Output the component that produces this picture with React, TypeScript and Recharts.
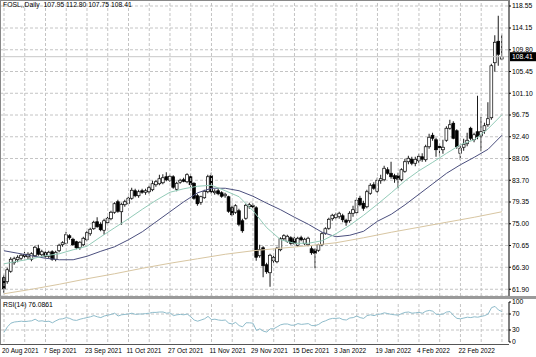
import React from 'react';
import { ComposedChart, Bar, Line, XAxis, YAxis, CartesianGrid, ReferenceLine } from 'recharts';

const opens = [64.2,63.4,65.5,67.2,67.8,68.1,68.9,68.4,67.9,68.6,70.0,68.8,69.2,68.5,69.4,67.9,69.6,70.8,71.1,72.6,71.9,71.4,70.2,70.8,71.8,73.0,74.0,75.4,74.9,73.7,75.2,76.0,77.3,79.4,77.4,78.8,79.1,80.1,81.6,80.6,81.6,81.3,81.4,81.8,82.8,83.0,83.2,84.4,83.7,84.4,81.9,83.3,83.8,83.4,84.4,83.1,80.6,79.3,80.2,81.4,84.6,81.2,81.6,81.2,80.6,80.4,78.2,77.3,77.6,75.6,76.1,78.4,78.7,78.2,68.6,70.2,66.8,65.2,67.6,67.4,69.8,72.0,71.5,72.2,72.0,70.7,72.2,71.0,70.8,70.0,69.8,69.7,70.8,73.1,74.1,76.0,76.2,76.4,76.6,75.7,75.6,77.1,77.2,80.1,79.1,78.4,81.1,82.8,81.5,83.6,83.8,85.8,85.1,84.6,84.6,83.8,85.5,87.4,87.9,87.1,87.6,88.4,87.8,90.4,92.7,91.8,90.5,89.8,91.7,94.1,95.1,93.6,89.1,90.3,91.0,94.1,91.8,93.4,92.6,93.6,94.8,96.2,107.2,111.5,107.95];
const highs = [64.8,66.2,68.3,68.4,68.7,69.0,69.4,69.3,69.3,70.6,70.8,69.8,69.5,69.6,69.7,69.6,71.0,71.5,73.4,72.9,72.2,71.6,71.5,72.4,73.5,74.2,75.6,76.3,75.3,76.0,76.4,77.6,79.3,79.8,79.2,79.8,80.4,82.2,82.0,81.8,82.0,82.0,82.6,83.6,83.7,84.8,84.9,85.3,84.8,84.7,83.4,84.0,84.2,85.1,84.9,83.3,81.0,80.6,81.8,84.8,85.2,81.9,82.0,81.5,81.2,80.6,78.6,78.9,78.0,76.0,79.0,79.2,79.1,78.5,70.8,70.5,67.2,69.0,68.6,70.4,72.3,72.9,72.8,72.5,72.4,72.4,72.6,72.2,72.4,70.5,70.1,71.0,73.3,74.3,76.2,77.0,77.2,77.4,77.0,76.0,77.5,78.6,80.2,80.6,79.6,81.8,83.1,83.3,84.2,84.8,86.6,86.3,87.4,85.0,85.2,86.1,88.0,88.6,88.4,88.4,89.0,89.1,90.8,93.0,93.2,92.2,91.0,91.8,94.5,95.8,95.5,93.9,90.6,92.0,93.2,94.4,93.2,100.6,96.4,95.2,99.3,107.0,112.7,116.6,112.8];
const lows = [61.2,63.0,65.2,66.8,67.3,67.7,68.2,67.9,67.5,68.3,68.6,68.4,68.2,68.1,67.6,67.5,69.3,70.4,70.9,71.8,70.6,69.9,69.8,70.5,71.5,72.6,73.8,74.2,73.5,72.8,74.9,75.7,77.0,77.2,74.8,78.4,78.8,79.8,80.3,80.2,81.0,80.8,81.0,81.5,82.4,82.7,82.9,83.5,83.4,82.0,81.5,83.0,83.3,83.1,82.4,79.8,78.6,78.8,80.0,81.1,81.0,80.8,80.7,80.2,80.2,77.2,76.5,77.0,74.5,73.2,75.8,78.0,78.1,67.6,68.2,64.3,65.0,62.4,67.2,67.1,69.5,71.6,71.2,70.8,70.8,70.4,71.5,70.7,70.5,68.8,66.1,69.4,70.5,72.8,73.8,75.6,75.9,76.0,75.3,74.6,75.2,76.4,76.9,78.5,77.6,78.1,80.8,81.8,81.2,83.0,83.5,84.8,84.0,83.2,82.1,83.5,85.2,86.9,86.7,86.5,87.2,87.4,87.4,90.0,91.6,88.4,88.5,89.0,91.4,93.8,91.9,90.0,87.8,89.6,90.5,91.7,91.3,91.9,89.5,93.0,94.4,95.8,105.4,106.6,107.75];
const closes = [62.0,65.8,67.9,68.0,68.3,68.7,68.5,68.9,69.0,70.3,68.9,69.4,68.5,69.3,67.9,69.3,70.7,71.2,72.8,72.2,70.8,70.2,71.3,72.1,73.2,73.9,75.3,74.4,73.8,75.6,76.1,77.3,79.0,77.5,78.9,79.4,80.1,81.7,80.6,81.4,81.3,81.6,82.2,83.0,83.4,84.0,84.2,83.8,84.5,82.3,83.1,83.7,83.5,84.8,82.8,80.1,79.0,80.4,81.5,84.4,81.4,81.5,81.0,80.5,80.9,77.5,76.8,78.6,74.9,73.6,78.7,78.8,78.4,68.3,69.8,66.6,65.4,68.7,68.3,70.1,72.0,72.6,72.5,71.1,71.0,72.1,71.8,71.9,72.1,69.2,69.1,70.8,73.0,74.0,75.9,76.7,76.8,77.1,75.8,75.3,77.1,77.8,79.7,78.8,78.1,81.4,82.7,82.1,83.7,84.0,86.1,85.1,84.4,84.0,83.9,85.8,87.4,88.1,87.1,87.9,88.5,87.9,90.4,92.3,92.1,89.8,90.2,90.3,94.1,94.8,92.1,90.4,90.1,90.9,91.7,92.1,92.8,92.4,93.4,94.6,96.0,106.6,111.3,108.9,108.41];

// moving averages read every 4 bars (fast, mid) and every 8 bars (slow)
const fastMa = [67.0,67.5,68.0,68.6,69.0,69.8,70.5,72.4,74.2,76.0,77.9,79.7,81.3,82.0,82.5,82.7,81.6,80.4,77.6,74.2,71.8,71.1,71.1,71.6,73.0,74.7,76.7,78.9,81.2,83.6,85.6,87.3,89.1,90.8,91.8,94.0,96.8];
const midMa = [69.6,69.1,68.6,68.1,67.8,67.8,68.5,69.5,70.4,71.8,73.4,75.4,77.4,79.4,81.2,82.1,82.1,81.6,80.5,79.1,77.8,76.3,74.9,73.3,72.4,72.7,73.5,75.5,76.9,78.8,80.9,83.0,85.1,86.8,88.3,89.9,92.7];
const slowMa = [61.0,61.9,62.9,64.0,65.0,66.1,67.1,68.0,68.9,69.6,70.1,70.6,71.2,72.2,73.3,74.3,75.3,76.3,77.4];

const rsiValues = [24,38,47,50,51,52,51,52,53,57,52,53,51,52,48,53,57,58,61,59,55,54,57,59,61,63,66,63,61,65,67,69,72,65,68,69,70,72,69,70,70,71,72,74,74,75,75,72,73,66,68,69,68,70,63,55,52,55,58,64,56,57,55,54,55,47,45,49,41,38,48,48,47,29,33,27,25,33,33,38,43,45,45,42,42,46,44,45,46,41,41,44,50,53,57,59,59,60,56,55,60,61,65,61,59,66,68,66,69,70,73,71,69,68,67,71,74,75,72,73,74,72,77,79,77,69,69,70,75,76,66,59,58,60,62,61,63,62,64,66,70,86,89,80,76.09];

const dateLabels = ['20 Aug 2021','7 Sep 2021','23 Sep 2021','11 Oct 2021','27 Oct 2021','11 Nov 2021','29 Nov 2021','15 Dec 2021','3 Jan 2022','19 Jan 2022','4 Feb 2022','22 Feb 2022'];
const dateTickBars = [0,12,24,36,48,60,72,84,96,108,120,132];
const gridBars = [0,6,12,18,24,30,36,42,48,54,60,66,72,78,84,90,96,102,108,114,120,126,132,138,144];
const priceTicks = [118.55,114.15,109.80,105.45,101.10,96.75,92.40,88.05,83.70,79.35,75.00,70.65,66.30,61.90];
const rsiTicks = [0,30,70,100];
const rsiLevels = [30,70];

const X_DOMAIN: [number, number] = [-1.157, 146.04];
const FONT = '"Liberation Sans", Arial, sans-serif';
const GRID = '#c4c4c4';

const data = opens.map((o, i) => ({
  i,
  o,
  h: highs[i],
  l: lows[i],
  c: closes[i],
  range: [lows[i], highs[i]],
  rsi: rsiValues[i],
}));

const fastData = fastMa.map((v, k) => ({ i: k * 4, fast: v }));
const midData = midMa.map((v, k) => ({ i: k * 4, mid: v }));
const slowData = slowMa.map((v, k) => ({ i: k * 8, slow: v }));

const lastClose = closes[closes.length - 1];

const Candle = (props: any) => {
  const { x, y, width, height, payload } = props;
  if (x == null || y == null || !payload) return null;
  const { o, h, l, c } = payload;
  const range = h - l;
  const ratio = range > 0 ? height / range : 0;
  const cx = x + width / 2;
  const top = y + (h - Math.max(o, c)) * ratio;
  const bot = y + (h - Math.min(o, c)) * ratio;
  const bull = c >= o;
  return (
    <g>
      <line x1={cx} x2={cx} y1={y} y2={y + height} stroke="#000" strokeWidth={0.9} />
      <rect x={cx - 1.4} y={top} width={2.8} height={Math.max(bot - top, 0.8)} fill={bull ? '#fff' : '#000'} stroke="#000" strokeWidth={0.7} />
    </g>
  );
};

const PriceBox = (props: any) => {
  const vb = props.viewBox || {};
  const bx = (vb.x || 0) + (vb.width || 0) + 1;
  const by = vb.y || 0;
  return (
    <g>
      <rect x={bx} y={by - 4.5} width={26} height={9} fill="#000" />
      <text x={bx + 2} y={by + 2.5} fill="#fff" fontSize={6.8} fontFamily={FONT}>{lastClose.toFixed(2)}</text>
    </g>
  );
};

const DateTick = (props: any) => {
  const { x, payload } = props;
  const idx = dateTickBars.indexOf(payload.value);
  if (idx < 0) return null;
  return (
    <text x={x - 2} y={54.5} fontSize={6.5} fontFamily={FONT} fill="#000" textAnchor="start">
      {dateLabels[idx]}
    </text>
  );
};

export default function App() {
  return (
    <div style={{ position: 'fixed', left: 0, top: 0, width: 536, height: 357, background: '#fff', fontFamily: FONT, overflow: 'hidden' }}>
      <div style={{ position: 'absolute', left: 0, top: 0 }}>
        <ComposedChart width={536} height={296} data={data} margin={{ top: 0, right: 0, left: 0, bottom: 0 }}>
          <CartesianGrid vertical={false} stroke={GRID} strokeDasharray="3 2" />
          {gridBars.map((b) => (
            <ReferenceLine key={'g' + b} x={b} stroke={GRID} strokeDasharray="3 2" />
          ))}
          <XAxis type="number" dataKey="i" domain={X_DOMAIN} hide allowDataOverflow />
          <YAxis
            orientation="right"
            width={27}
            domain={[60.55, 119.75]}
            ticks={priceTicks}
            interval={0}
            allowDataOverflow
            tickFormatter={(v: number) => v.toFixed(2)}
            tick={{ fontSize: 6.8, fill: '#000', fontFamily: FONT }}
            tickSize={2}
            tickMargin={1}
            axisLine={{ stroke: '#000' }}
            tickLine={{ stroke: '#000' }}
          />
          <ReferenceLine y={lastClose} stroke="#c8c8c8" label={<PriceBox />} />
          <Bar dataKey="range" barSize={3} shape={<Candle />} isAnimationActive={false} />
          <Line data={slowData} dataKey="slow" stroke="#d8c6a2" strokeWidth={1} dot={false} activeDot={false} isAnimationActive={false} type="linear" />
          <Line data={midData} dataKey="mid" stroke="#4b4f7e" strokeWidth={1} dot={false} activeDot={false} isAnimationActive={false} type="linear" />
          <Line data={fastData} dataKey="fast" stroke="#93cbb8" strokeWidth={1} dot={false} activeDot={false} isAnimationActive={false} type="linear" />
        </ComposedChart>
      </div>
      <div style={{ position: 'absolute', left: 0, top: 0, width: 509, height: 296, borderLeft: '1px solid #888', borderTop: '1px solid #888', boxSizing: 'border-box', pointerEvents: 'none' }} />
      <div style={{ position: 'absolute', left: 3, top: 1, fontSize: 6.8, lineHeight: '8px', color: '#000', whiteSpace: 'pre' }}>FOSL,,Daily  107.95 112.80 107.75 108.41</div>
      <div style={{ position: 'absolute', left: 0, top: 296, width: 536, height: 3, background: '#9a9a9a' }} />
      <div style={{ position: 'absolute', left: 0, top: 298 }}>
        <ComposedChart width={536} height={59} data={data} margin={{ top: 4, right: 0, left: 0, bottom: 0 }}>
          {gridBars.map((b) => (
            <ReferenceLine key={'r' + b} x={b} stroke={GRID} strokeDasharray="3 2" />
          ))}
          {rsiLevels.map((lv) => (
            <ReferenceLine key={'l' + lv} y={lv} stroke={GRID} strokeDasharray="3 2" />
          ))}
          <XAxis
            type="number"
            dataKey="i"
            domain={X_DOMAIN}
            allowDataOverflow
            ticks={dateTickBars}
            interval={0}
            height={15}
            axisLine={false}
            tickLine={false}
            tickSize={0}
            tick={<DateTick />}
          />
          <YAxis
            orientation="right"
            width={27}
            domain={[0, 100]}
            ticks={rsiTicks}
            interval={0}
            tick={{ fontSize: 6.8, fill: '#000', fontFamily: FONT }}
            tickSize={2}
            tickMargin={1}
            axisLine={{ stroke: '#000' }}
            tickLine={{ stroke: '#000' }}
          />
          <Line dataKey="rsi" stroke="#8fbccb" strokeWidth={1} dot={false} activeDot={false} isAnimationActive={false} type="linear" />
        </ComposedChart>
      </div>
      <div style={{ position: 'absolute', left: 0, top: 299, width: 509, height: 46, borderLeft: '1px solid #888', borderBottom: '1px solid #555', boxSizing: 'border-box', pointerEvents: 'none' }} />
      <div style={{ position: 'absolute', left: 3, top: 301, fontSize: 6.8, lineHeight: '8px', color: '#000', whiteSpace: 'pre' }}>RSI(14) 76.0861</div>
    </div>
  );
}
